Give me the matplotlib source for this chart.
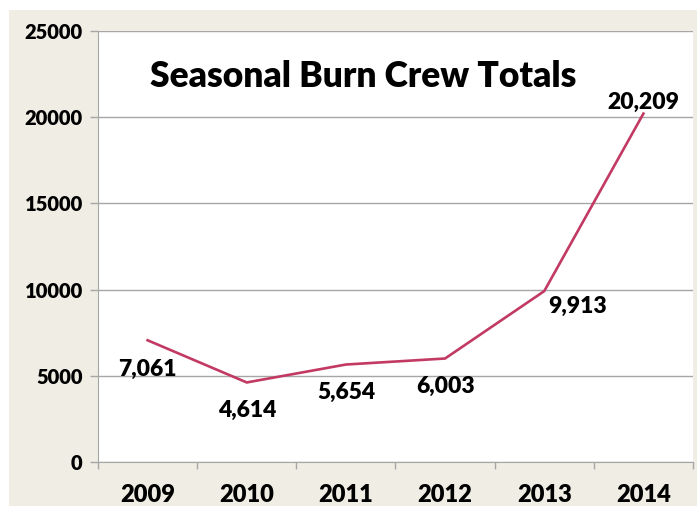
import matplotlib
matplotlib.use("Agg")
import matplotlib.pyplot as plt
from matplotlib.patches import Rectangle
from matplotlib.ticker import FixedLocator, NullFormatter

years = ["2009", "2010", "2011", "2012", "2013", "2014"]
totals = [7061, 4614, 5654, 6003, 9913, 20209]
value_labels = ["7,061", "4,614", "5,654", "6,003", "9,913", "20,209"]
y_ticks = [0, 5000, 10000, 15000, 20000, 25000]
title = "Seasonal Burn Crew Totals"

# label offsets in points (style only)
label_offsets = [(0, -21), (0, -20), (0, -20), (0, -20), (24, -11), (0, 8)]

plt.rcParams['font.family'] = ['Lato', 'DejaVu Sans']
WT = 800

W, H = 697, 512
fig = plt.figure(figsize=(W / 100, H / 100), dpi=100)
fig.patch.set_facecolor("white")
bg = Rectangle((9 / W, 6 / H), 1 - 9 / W, (506 - 10) / H, transform=fig.transFigure,
               facecolor="#EFEDE4", edgecolor="none", zorder=0)
fig.patches.append(bg)

ax = fig.add_axes([98 / W, (H - 462) / H, 595 / W, 431 / H])
ax.set_facecolor("white")
ax.set_zorder(1)

x = list(range(len(years)))
ax.plot(x, totals, color="#C23A63", linewidth=1.9, solid_joinstyle="miter", zorder=3)

ax.set_xlim(-0.5, len(years) - 0.5)
ax.set_ylim(0, 25000)
ax.set_yticks(y_ticks)
ax.set_yticklabels([str(v) for v in y_ticks], fontsize=14.5, fontweight=WT)
ax.yaxis.grid(True, color="#A6A6A6", linewidth=1.0)
ax.set_axisbelow(True)

ax.set_xticks(x)
ax.set_xticklabels(years, fontsize=17, fontweight=WT)
ax.tick_params(axis="x", which="major", length=0, pad=16)
ax.xaxis.set_minor_locator(FixedLocator([i + 0.5 for i in range(-1, len(years))]))
ax.xaxis.set_minor_formatter(NullFormatter())
ax.tick_params(axis="x", which="minor", length=5, color="#A6A6A6", width=1)
ax.tick_params(axis="y", length=6, color="#A6A6A6", width=1, pad=5)

for s in ["top", "right"]:
    ax.spines[s].set_visible(False)
ax.spines["left"].set_color("#A6A6A6")
ax.spines["bottom"].set_color("#A6A6A6")

for xi, v, lab, off in zip(x, totals, value_labels, label_offsets):
    ax.annotate(lab, (xi, v), xytext=off, textcoords="offset points",
                ha="center", va="center", fontsize=16.5, fontweight=WT, color="black", zorder=4)

ax.text(0.445, 0.895, title, transform=ax.transAxes, ha="center", va="center",
        fontsize=25.5, fontweight=WT, color="black")

fig.savefig("out.png", dpi=100, facecolor=fig.get_facecolor())
